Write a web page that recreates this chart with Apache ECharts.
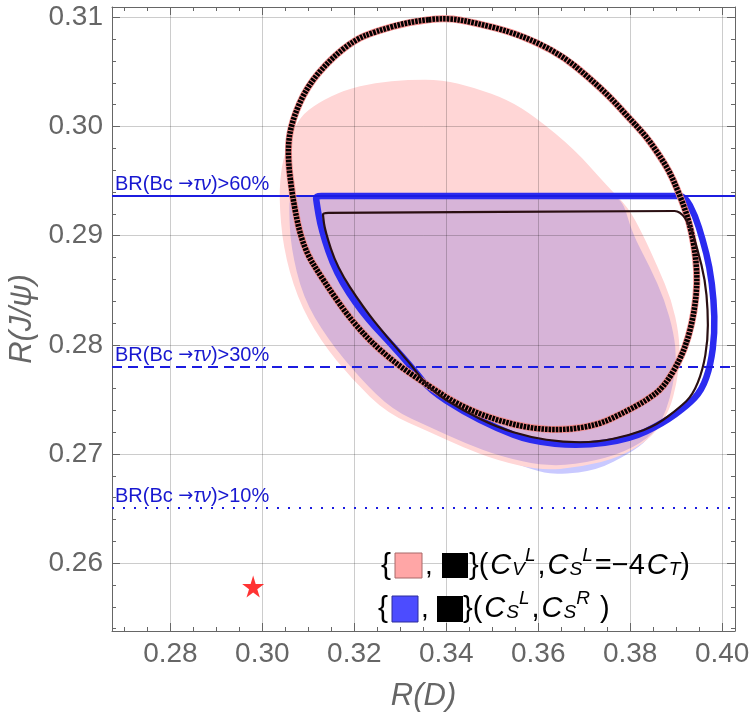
<!DOCTYPE html>
<html>
<head>
<meta charset="utf-8">
<script src="https://cdn.jsdelivr.net/npm/echarts@6/dist/echarts.min.js"></script>
<style>
html, body { margin: 0; padding: 0; background: #fff; }
#main { width: 750px; height: 716px; }
</style>
</head>
<body>
<div id="main"></div>
<script>
// axis ranges
var xRange = [0.2673, 0.4028];
var yRange = [0.25379, 0.31095];

// BR(Bc -> tau nu) bounds
var brLevels = [0.2937, 0.2780, 0.2651];
var brNames = ['60%', '30%', '10%'];

// SM point
var smPoint = [[0.2980, 0.25786]];

// filled region (C_V^L, C_S^L=-4C_T)
var cvlFill = [
	[0.3317, 0.30428], [0.3391, 0.30428], [0.3462, 0.30355], [0.3534, 0.30245],
	[0.3593, 0.30089], [0.3680, 0.29786], [0.3752, 0.29447], [0.3795, 0.29263],
	[0.3826, 0.29025], [0.3860, 0.28713], [0.3890, 0.28410], [0.3906, 0.28107],
	[0.3908, 0.27860], [0.3901, 0.27649], [0.3886, 0.27401], [0.3849, 0.27154],
	[0.3778, 0.26970], [0.3691, 0.26878], [0.3604, 0.26850], [0.3510, 0.26943],
	[0.3436, 0.27062], [0.3365, 0.27200], [0.3271, 0.27374], [0.3197, 0.27677],
	[0.3125, 0.28043], [0.3075, 0.28438], [0.3045, 0.28896], [0.3036, 0.29355],
	[0.3042, 0.29649], [0.3058, 0.29878], [0.3082, 0.30089], [0.3121, 0.30217],
	[0.3180, 0.30337], [0.3245, 0.30401]
];

// filled region (C_S^L, C_S^R)
var cslrFill = [
	[0.3060, 0.29355], [0.3100, 0.29355], [0.3740, 0.29355], [0.3782, 0.29355],
	[0.3804, 0.29025], [0.3843, 0.28713], [0.3875, 0.28410], [0.3895, 0.28107],
	[0.3901, 0.27860], [0.3897, 0.27630], [0.3879, 0.27374], [0.3838, 0.27126],
	[0.3799, 0.27007], [0.3728, 0.26850], [0.3647, 0.26814], [0.3604, 0.26832],
	[0.3517, 0.26961], [0.3441, 0.27099], [0.3365, 0.27245], [0.3284, 0.27401],
	[0.3212, 0.27695], [0.3141, 0.28061], [0.3088, 0.28438], [0.3062, 0.28896],
	[0.3058, 0.29236]
];

// where both regions overlap
var bothFill = [
	[0.3060, 0.29355], [0.3100, 0.29355], [0.3740, 0.29355], [0.3782, 0.29355],
	[0.3804, 0.29025], [0.3843, 0.28713], [0.3875, 0.28410], [0.3895, 0.28107],
	[0.3901, 0.27860], [0.3893, 0.27630], [0.3879, 0.27401], [0.3854, 0.27190],
	[0.3789, 0.27016], [0.3702, 0.26915], [0.3615, 0.26887], [0.3517, 0.26979],
	[0.3441, 0.27099], [0.3365, 0.27245], [0.3284, 0.27401], [0.3212, 0.27695],
	[0.3141, 0.28061], [0.3088, 0.28438], [0.3062, 0.28896], [0.3058, 0.29236]
];

// outline (C_V^L, C_S^L=-4C_T)
var cvlEdge = [
	[0.3402, 0.30997], [0.3462, 0.30951], [0.3538, 0.30869], [0.3599, 0.30768],
	[0.3658, 0.30630], [0.3708, 0.30456], [0.3756, 0.30272], [0.3795, 0.30089],
	[0.3832, 0.29924], [0.3860, 0.29759], [0.3886, 0.29584], [0.3903, 0.29419],
	[0.3921, 0.29227], [0.3934, 0.29025], [0.3943, 0.28795], [0.3946, 0.28566],
	[0.3940, 0.28318], [0.3927, 0.28071], [0.3908, 0.27860], [0.3873, 0.27612],
	[0.3836, 0.27493], [0.3784, 0.27374], [0.3728, 0.27264], [0.3654, 0.27218],
	[0.3582, 0.27236], [0.3510, 0.27310], [0.3436, 0.27429], [0.3365, 0.27612],
	[0.3271, 0.27887], [0.3197, 0.28199], [0.3132, 0.28594], [0.3088, 0.28896],
	[0.3065, 0.29355], [0.3054, 0.29786], [0.3065, 0.30061], [0.3097, 0.30364],
	[0.3147, 0.30612], [0.3201, 0.30795], [0.3245, 0.30869], [0.3321, 0.30961]
];

// outline (C_S^L, C_S^R), blue band
var cslrEdge = [
	[0.3117, 0.29364], [0.3140, 0.29364], [0.3895, 0.29364], [0.3919, 0.29364],
	[0.3941, 0.29190], [0.3958, 0.28961], [0.3973, 0.28713], [0.3982, 0.28410],
	[0.3984, 0.28107], [0.3975, 0.27814], [0.3956, 0.27585], [0.3925, 0.27447],
	[0.3871, 0.27282], [0.3799, 0.27135], [0.3691, 0.27071], [0.3582, 0.27117],
	[0.3510, 0.27236], [0.3436, 0.27392], [0.3365, 0.27585], [0.3330, 0.27768],
	[0.3273, 0.28043], [0.3217, 0.28291], [0.3160, 0.28658], [0.3128, 0.29052],
	[0.3117, 0.29328]
];

// outline (C_S^L, C_S^R), black
var cslrEdge2 = [
	[0.3132, 0.29208], [0.3155, 0.29209], [0.3885, 0.29226], [0.3908, 0.29227],
	[0.3930, 0.29098], [0.3947, 0.28869], [0.3963, 0.28594], [0.3969, 0.28318],
	[0.3969, 0.28043], [0.3958, 0.27768], [0.3936, 0.27539], [0.3908, 0.27429],
	[0.3858, 0.27264], [0.3799, 0.27172], [0.3728, 0.27108], [0.3654, 0.27108],
	[0.3582, 0.27154], [0.3510, 0.27245], [0.3436, 0.27401], [0.3365, 0.27585],
	[0.3321, 0.27833], [0.3271, 0.28071], [0.3219, 0.28346], [0.3162, 0.28713],
	[0.3136, 0.29052], [0.3132, 0.29180]
];

var FONT = 'Liberation Sans';
var GRAY = '#666';

// closed smooth outline through midpoints, in pixel space
function loopPath(px) {
	var n = px.length;
	var mid = function(a, b) {
		return [ (a[0] + b[0]) / 2, (a[1] + b[1]) / 2 ];
	};
	var m = mid(px[n - 1], px[0]);
	var d = 'M' + m[0].toFixed(2) + ' ' + m[1].toFixed(2);
	for (var i = 0; i < n; i++) {
		var p = px[i];
		var q = mid(p, px[(i + 1) % n]);
		d += ' Q' + p[0].toFixed(2) + ' ' + p[1].toFixed(2) + ' ' + q[0].toFixed(2) + ' ' + q[1].toFixed(2);
	}
	return d + ' Z';
}

// closed shape drawn through the cartesian scales
function shape(name, pts, style, z) {
	return {
		type : 'custom',
		name : name,
		z : z,
		silent : true,
		clip : true,
		data : [ pts[0] ],
		renderItem : function(params, api) {
			var px = pts.map(function(p) {
				return api.coord(p);
			});
			return {
				type : 'path',
				shape : { pathData : loopPath(px) },
				style : style
			};
		}
	};
}

function axisX(pos, main) {
	return {
		type : 'value',
		position : pos,
		min : xRange[0],
		max : xRange[1],
		splitNumber : 7,
		z : 3,
		axisLine : { show : true, onZero : false, lineStyle : { color : GRAY, width : 1 } },
		axisTick : { show : true, inside : true, length : 8, lineStyle : { color : GRAY } },
		minorTick : { show : true, splitNumber : 4, length : 4, lineStyle : { color : GRAY } },
		splitLine : { show : main, lineStyle : { color : 'rgba(0,0,0,0.2)', width : 1 } },
		axisLabel : {
			show : main,
			showMinLabel : false,
			showMaxLabel : false,
			margin : 9,
			fontSize : 28,
			fontFamily : FONT,
			color : GRAY,
			formatter : function(v) { return v.toFixed(2); }
		},
		name : main ? 'R(D)' : '',
		nameLocation : 'middle',
		nameGap : 50,
		nameTextStyle : { fontSize : 31, fontStyle : 'italic', fontFamily : FONT, color : GRAY }
	};
}

function axisY(pos, main) {
	return {
		type : 'value',
		position : pos,
		min : yRange[0],
		max : yRange[1],
		splitNumber : 6,
		z : 3,
		axisLine : { show : true, onZero : false, lineStyle : { color : GRAY, width : 1 } },
		axisTick : { show : true, inside : true, length : 8, lineStyle : { color : GRAY } },
		minorTick : { show : true, splitNumber : 5, length : 4, lineStyle : { color : GRAY } },
		splitLine : { show : main, lineStyle : { color : 'rgba(0,0,0,0.2)', width : 1 } },
		axisLabel : {
			show : main,
			showMinLabel : false,
			showMaxLabel : false,
			margin : 9,
			fontSize : 28,
			fontFamily : FONT,
			color : GRAY,
			formatter : function(v) { return v.toFixed(2); }
		},
		name : main ? 'R(J/ψ)' : '',
		nameLocation : 'middle',
		nameGap : 74,
		nameTextStyle : { fontSize : 31, fontStyle : 'italic', fontFamily : FONT, color : GRAY }
	};
}

var brDash = [ 'solid', [ 10, 6 ], [ 2, 9 ] ];
var BLUE = '#1c1ce0';
var BR_TEXT = '#1818d0';

var legendRich = {
	c : { fontSize : 29, fontStyle : 'italic', fontFamily : FONT, fill : '#000', padding : [ 0, 1, 0, 2 ] },
	n : { fontSize : 29, fontFamily : FONT, fill : '#000' },
	sub : { fontSize : 19, fontStyle : 'italic', fontFamily : FONT, fill : '#000', verticalAlign : 'bottom', height : 32 },
	sup : { fontSize : 19, fontStyle : 'italic', fontFamily : FONT, fill : '#000', verticalAlign : 'top', padding : [ 0, 2, 0, 0 ] }
};

var myChart = echarts.init(document.getElementById('main'));
var option = {
	animation : false,
	textStyle : { fontFamily : FONT },
	grid : {
		left : 112,
		right : 15,
		top : 7,
		bottom : 85,
		containLabel : false,
		outerBoundsMode : 'none'
	},
	xAxis : [ axisX('bottom', true), axisX('top', false) ],
	yAxis : [ axisY('left', true), axisY('right', false) ],
	series : [
		shape('cslrFill', cslrFill, { fill : '#c9c9ff' }, 1),
		shape('cvlFill', cvlFill, { fill : '#ffd6d6' }, 1),
		shape('bothFill', bothFill, { fill : '#d7b4d8' }, 1),
		shape('cslrEdge', cslrEdge, { fill : 'none', stroke : '#2b2bf0', lineWidth : 6.5, lineJoin : 'round' }, 4),
		shape('cvlEdgePink', cvlEdge, { fill : 'none', stroke : '#f28a8a', lineWidth : 7 }, 5),
		shape('cvlEdge', cvlEdge, { fill : 'none', stroke : '#000', lineWidth : 5.5, lineDash : [ 2.6, 1 ] }, 5),
		shape('cslrEdge2', cslrEdge2, { fill : 'none', stroke : '#2a0f12', lineWidth : 2.2 }, 5),
		{
			type : 'scatter',
			name : 'SM',
			z : 6,
			data : smPoint,
			symbol : 'path://M50,0 L61,35 L98,35 L68,57 L79,91 L50,70 L21,91 L32,57 L2,35 L39,35 Z',
			symbolSize : 22,
			itemStyle : { color : '#ff0000' },
			markLine : {
				silent : true,
				symbol : 'none',
				animation : false,
				precision : 5,
				data : brLevels.map(function(v, i) {
					return {
						yAxis : v,
						lineStyle : { color : BLUE, width : 2, type : brDash[i] },
						label : {
							show : true,
							position : 'insideStartTop',
							distance : [ 3, 1 ],
							formatter : function() {
								return '{n|BR(Bc }{a|→}{i|τν}{n|)>' + brNames[i] + '}';
							},
							rich : {
								n : { fontSize : 20, color : BR_TEXT, fontFamily : FONT },
								a : { fontSize : 18, color : BR_TEXT, fontFamily : 'DejaVu Sans' },
								i : { fontSize : 20, color : BR_TEXT, fontFamily : FONT, fontStyle : 'italic' }
							}
						}
					};
				})
			}
		}
	],
	graphic : [
		{ type : 'text', x : 381, y : 566, z : 10, style : { text : '{', fontSize : 30, fontFamily : FONT, fill : '#000', verticalAlign : 'middle' } },
		{ type : 'rect', z : 10, shape : { x : 395, y : 553, width : 27, height : 25 }, style : { fill : '#ffa6a6', stroke : '#a86868', lineWidth : 1 } },
		{ type : 'text', x : 425, y : 566, z : 10, style : { text : ',', fontSize : 28, fontFamily : FONT, fill : '#000', verticalAlign : 'middle' } },
		{ type : 'rect', z : 10, shape : { x : 442, y : 553, width : 26, height : 25 }, style : { fill : '#000' } },
		{
			type : 'text', x : 469, y : 566, z : 10,
			style : {
				text : '}({c|C}{sub|V}{sup|L}{n|,}{c|C}{sub|S}{sup|L}{n|=−4}{c|C}{sub|T}{n|)}',
				fontSize : 29, fontFamily : FONT, fill : '#000', lineHeight : 40, verticalAlign : 'middle',
				rich : legendRich
			}
		},
		{ type : 'text', x : 378, y : 609, z : 10, style : { text : '{', fontSize : 30, fontFamily : FONT, fill : '#000', verticalAlign : 'middle' } },
		{ type : 'rect', z : 10, shape : { x : 392, y : 596, width : 26, height : 26 }, style : { fill : '#4c4cff', stroke : '#2c2c9c', lineWidth : 1 } },
		{ type : 'text', x : 421, y : 609, z : 10, style : { text : ',', fontSize : 28, fontFamily : FONT, fill : '#000', verticalAlign : 'middle' } },
		{ type : 'rect', z : 10, shape : { x : 437, y : 596, width : 26, height : 26 }, style : { fill : '#000' } },
		{
			type : 'text', x : 463, y : 609, z : 10,
			style : {
				text : '}({c|C}{sub|S}{sup|L}{n|,}{c|C}{sub|S}{sup|R}{n| )}',
				fontSize : 29, fontFamily : FONT, fill : '#000', lineHeight : 40, verticalAlign : 'middle',
				rich : legendRich
			}
		}
	]
};
myChart.setOption(option);
</script>
</body>
</html>
